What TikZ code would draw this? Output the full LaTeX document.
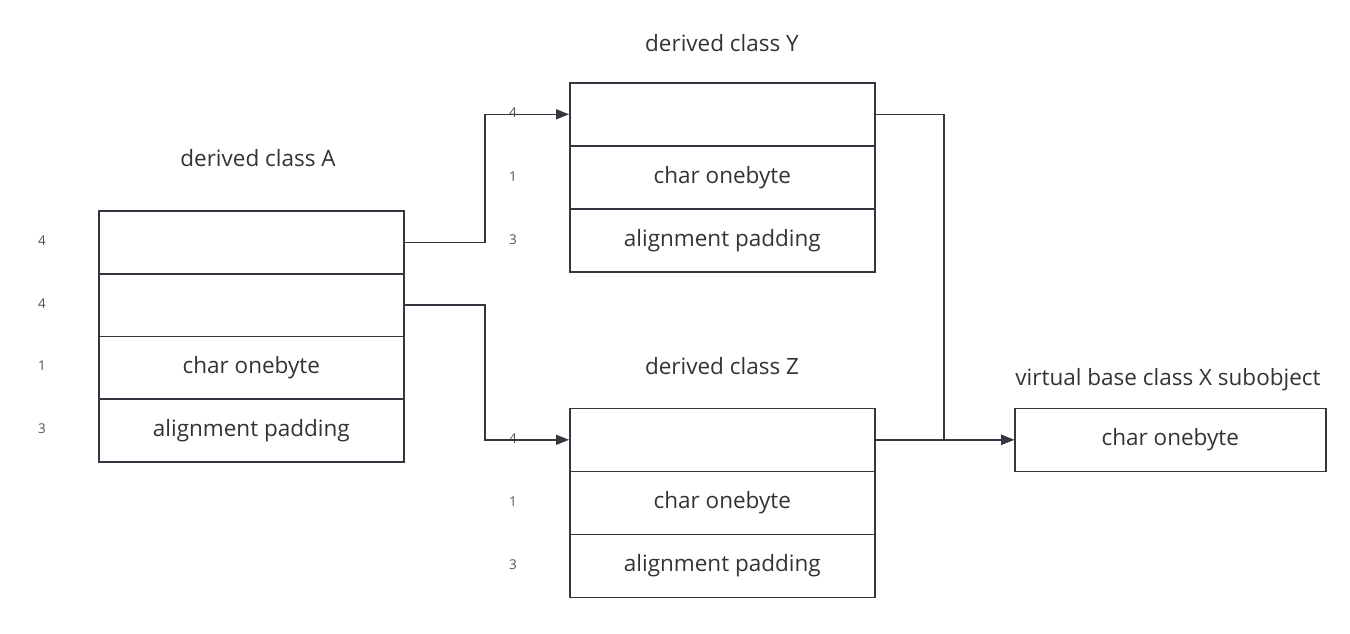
\documentclass[tikz,border=0pt]{standalone}
\usepackage{fontspec}
\setmainfont{Open Sans}
\usetikzlibrary{arrows.meta}
\definecolor{ln}{HTML}{333840}
\definecolor{tx}{HTML}{333333}
\begin{document}
\begin{tikzpicture}[x=1pt,y=-1pt,
  cell/.style={draw=ln,line width=1.6pt,minimum width=305pt,minimum height=63pt,inner sep=0pt,anchor=north west,font=\fontsize{22.5}{26}\selectfont,text=tx},
  num/.style={font=\fontsize{13.5}{16}\selectfont,text=tx!85},
  title/.style={font=\fontsize{22.5}{26}\selectfont,text=tx},
  conn/.style={draw=ln,line width=1.6pt},
  arr/.style={conn,-{Triangle[length=13pt,width=10pt]}}]
\useasboundingbox (0,0) rectangle (1350,633);
% box A
\node[cell] (a1) at (98,210) {};
\node[cell] (a2) at (98,272.75) {};
\node[cell] (a3) at (98,335.5) {char onebyte};
\node[cell] (a4) at (98,398.25) {alignment padding};
\node[title] (ta) at (258,158) {derived class A};
\node[num] (na1) at (42,241) {4};
\node[num] (na2) at (42,304) {4};
\node[num] (na3) at (42,366) {1};
\node[num] (na4) at (42,429) {3};
% box Y
\node[cell] (y1) at (569,82) {};
\node[cell] (y2) at (569,145) {char onebyte};
\node[cell] (y3) at (569,208) {alignment padding};
\node[title] (ty) at (722,43) {derived class Y};
\node[num] (ny1) at (513,113) {4};
\node[num] (ny2) at (513,177) {1};
\node[num] (ny3) at (513,240) {3};
% box Z
\node[cell] (z1) at (569,407.5) {};
\node[cell] (z2) at (569,470.5) {char onebyte};
\node[cell] (z3) at (569,533.5) {alignment padding};
\node[title] (tz) at (722,366) {derived class Z};
\node[num] (nz1) at (513,439) {4};
\node[num] (nz2) at (513,502) {1};
\node[num] (nz3) at (513,565) {3};
% box X
\node[cell,minimum width=311pt] (x1) at (1014,407.5) {char onebyte};
\node[title] (tx) at (1168,380) {virtual base class X subobject};
% connectors
\coordinate (c1) at (485,0);
\coordinate (c2) at (944,0);
\draw[arr] (a1.east) -| (c1 |- a1.east) |- (y1.west);
\draw[arr] (a2.east) -| (c1 |- a2.east) |- (z1.west);
\draw[arr] (y1.east) -| (c2 |- y1.east) |- (x1.west);
\draw[arr] (z1.east) -- (x1.west);
\end{tikzpicture}
\end{document}
